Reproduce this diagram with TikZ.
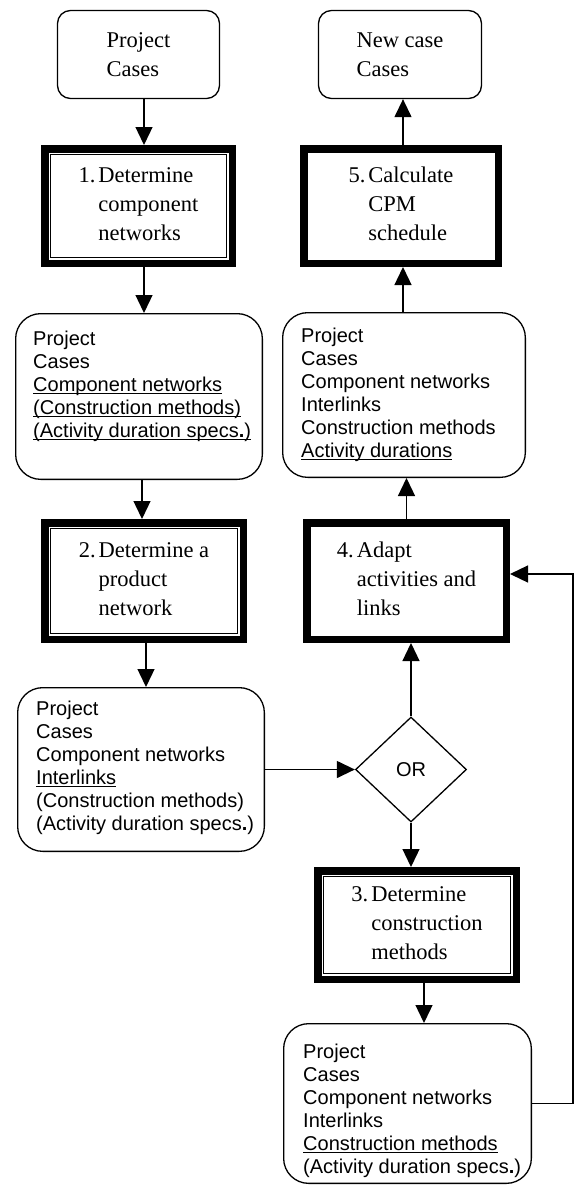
\documentclass[tikz,border=0pt]{standalone}
\usepackage{fontspec}
\setmainfont{Liberation Serif}
\newfontfamily\arialfont{Liberation Sans}
\usetikzlibrary{arrows.meta,shapes.geometric}
\newcommand{\ulin}[1]{\underline{\smash{#1}}}

\begin{document}
\begin{tikzpicture}[x=1pt,y=-1pt]
    \tikzset{%
      arr/.style={-{Triangle[length=18pt,width=17pt]}, line width=1.3pt},
      store/.style={rectangle, rounded corners=13pt, draw, line width=1.3pt,
        align=left, minimum width=162pt, minimum height=88pt,
        font=\fontsize{22.5}{29}\selectfont},
      data/.style={rectangle, rounded corners=25pt, draw, line width=1.3pt},
      datatext/.style={anchor=north west, inner sep=0pt, align=left,
        font=\arialfont\fontsize{20}{23}\selectfont},
      stepbox/.style={rectangle, draw, line width=7.5pt, inner sep=0pt,
        font=\fontsize{22.5}{29}\selectfont},
      thinline/.style={line width=1.2pt},
      orbox/.style={diamond, draw, line width=1.3pt, inner sep=0pt,
        minimum width=111pt, minimum height=105pt,
        font=\arialfont\fontsize{20}{23}\selectfont},
    }
    \useasboundingbox (0,0) rectangle (577,1186);

    % left column
    \node[store] (PC) at (138.5,54.5) {Project\\Cases};
    \node[stepbox, minimum width=187.5pt, minimum height=114.5pt] (S1) at (138.5,206)
      {\begin{tabular}{@{}r@{\hspace{3pt}}l@{}}1. & Determine\\ & component\\ & networks\end{tabular}};
    \draw [thinline] ([shift={(9.5,9.5)}]S1.north west) rectangle ([shift={(-9.5,-9.5)}]S1.south east);
    \node[data, minimum width=246.7pt, minimum height=165.7pt] (DA) at (139,396.5) {};
    \node[datatext] (DAt) at (33,331) {Project\\Cases\\\ulin{Component networks}\\
      \ulin{(Construction methods)}\\\ulin{(Activity duration specs\textbf{.})}};
    \node[stepbox, minimum width=198.5pt, minimum height=116.5pt] (S2) at (144,581)
      {\begin{tabular}{@{}r@{\hspace{3pt}}l@{}}2. & Determine a\\ & product\\ & network\end{tabular}};
    \draw [thinline] ([shift={(9.5,9.5)}]S2.north west) rectangle ([shift={(-9.5,-9.5)}]S2.south east);
    \node[data, minimum width=246.7pt, minimum height=163.7pt] (DC) at (141,769.5) {};
    \node[datatext] (DCt) at (36,701) {Project\\Cases\\Component networks\\\ulin{Interlinks}\\
      (Construction methods)\\(Activity duration specs\textbf{.})};

    % right column
    \node[store, minimum width=163pt] (NC) at (400,54.5) {New case\\Cases};
    \node[stepbox, minimum width=194.5pt, minimum height=114.5pt] (S5) at (401,206)
      {\begin{tabular}{@{}r@{\hspace{3pt}}l@{}}5. & Calculate\\ & CPM\\ & schedule\end{tabular}};
    \node[data, minimum width=242.7pt, minimum height=164.7pt] (DB) at (404,395) {};
    \node[datatext] (DBt) at (301,328) {Project\\Cases\\Component networks\\Interlinks\\
      Construction methods\\\ulin{Activity durations}};
    \node[stepbox, minimum width=199.5pt, minimum height=116.5pt] (S4) at (406.5,581)
      {\begin{tabular}{@{}r@{\hspace{3pt}}l@{}}4. & Adapt\\ & activities and\\ & links\end{tabular}};
    \node[orbox] (OR) at (411,769.5) {OR};
    \node[stepbox, minimum width=198.5pt, minimum height=108.5pt] (S3) at (417,925)
      {\begin{tabular}{@{}r@{\hspace{3pt}}l@{}}3. & Determine\\ & construction\\ & methods\end{tabular}};
    \draw [thinline] ([shift={(9.5,9.5)}]S3.north west) rectangle ([shift={(-9.5,-9.5)}]S3.south east);
    \node[data, minimum width=247.7pt, minimum height=159.7pt] (DD) at (407.5,1103.5) {};
    \node[datatext] (DDt) at (303,1044) {Project\\Cases\\Component networks\\Interlinks\\
      \ulin{Construction methods}\\(Activity duration specs\textbf{.})};

    % connectors
    \draw [arr] ([xshift=5.5pt]PC.south) -- ([xshift=5.5pt]S1.north);
    \draw [arr] ([xshift=5.5pt]S1.south) -- ([xshift=5pt]DA.north);
    \draw [arr] ([xshift=3pt]DA.south) -- ([xshift=-2pt]S2.north);
    \draw [arr] ([xshift=2pt]S2.south) -- ([xshift=5pt]DC.north);
    \draw [arr] (DC.east) -- (OR.west);
    \draw [arr] (OR.south) -- ([xshift=-6pt]S3.north);
    \draw [arr] ([xshift=7pt]S3.south) -- ([xshift=16.5pt]DD.north);
    \draw [arr] (OR.north) -- ([xshift=4.5pt]S4.south);
    \draw [arr] (DD.east) -- ++(41,0) |- ([yshift=7pt]S4.east);
    \draw [arr] (S4.north) -- ([xshift=2.5pt]DB.south);
    \draw [arr] ([xshift=-1pt]DB.north) -- ([xshift=2pt]S5.south);
    \draw [arr] ([xshift=2pt]S5.north) -- ([xshift=3pt]NC.south);
\end{tikzpicture}
\end{document}
